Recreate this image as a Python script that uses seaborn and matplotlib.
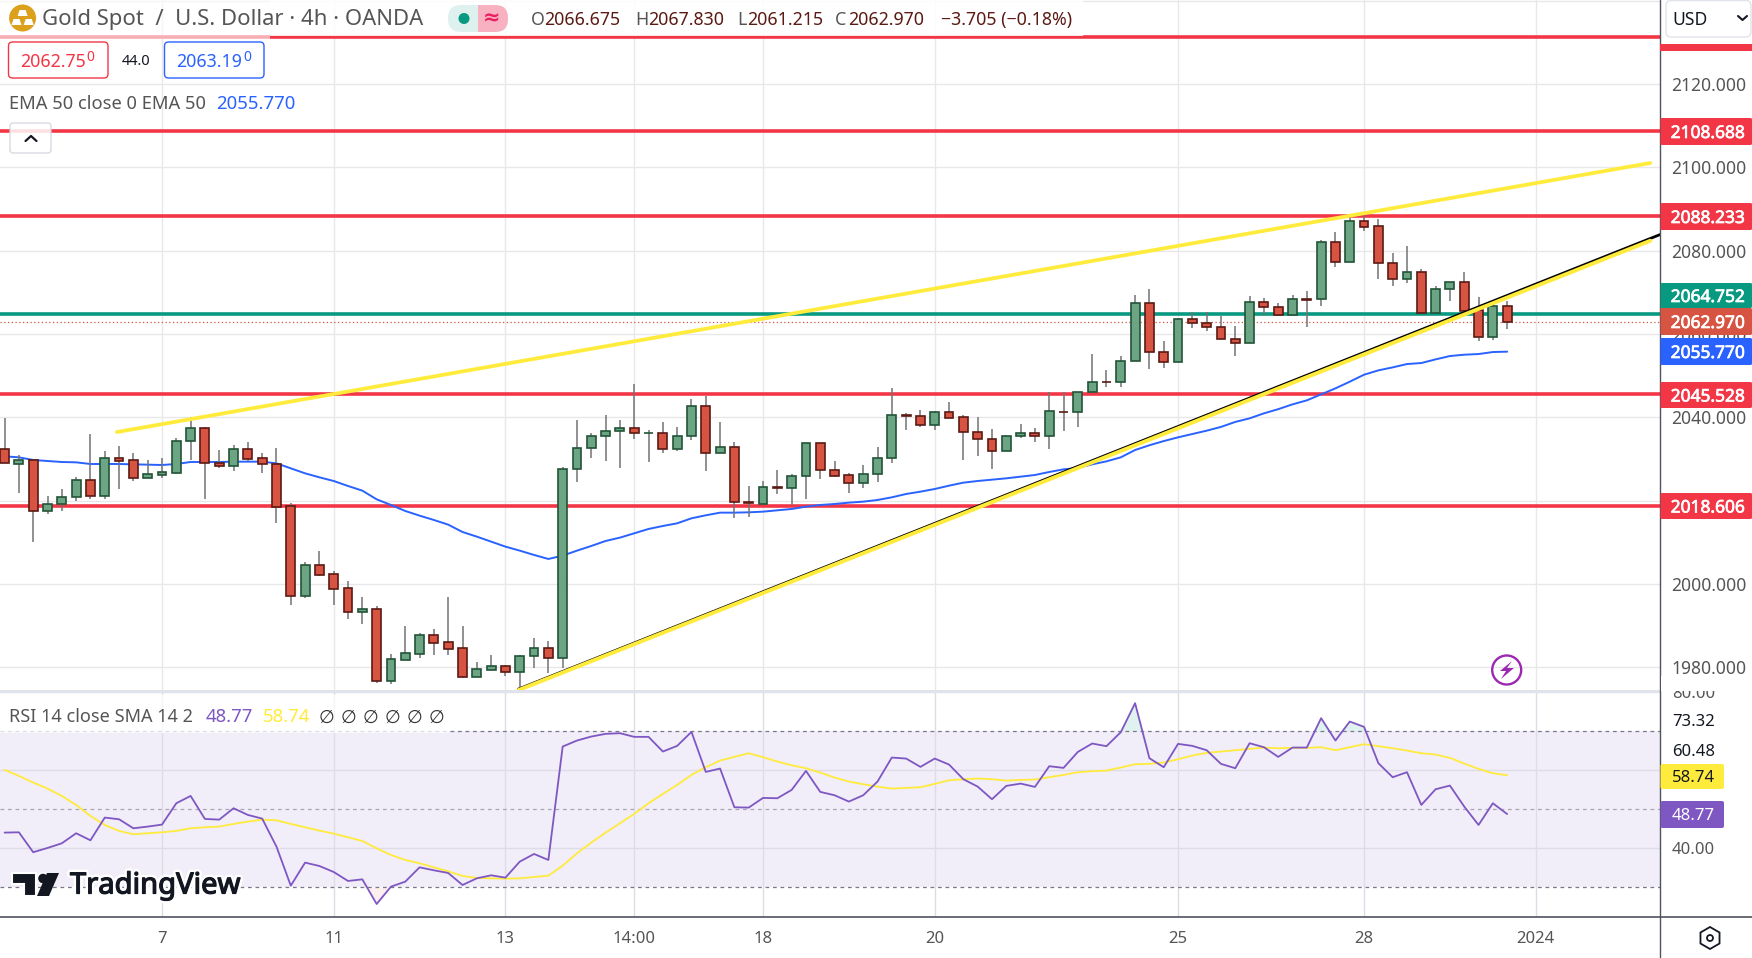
import numpy as np
import pandas as pd
import matplotlib
matplotlib.use("Agg")
import matplotlib.pyplot as plt
import matplotlib.patheffects as pe
from matplotlib.patches import Circle, FancyBboxPatch, Polygon, Rectangle, RegularPolygon
import seaborn as sns

# candles (4h bars)
open_ = [2032.32, 2028.88, 2029.68, 2017.44, 2019.28, 2020.8, 2024.88, 2021.2, 2030.16, 2029.68,
         2025.52, 2026.24, 2026.72, 2034.24, 2037.36, 2028.96, 2028.4, 2032.32, 2030.16, 2028.72,
         2018.64, 1997.2, 2004.48, 2002.32, 1998.96, 1993.36, 1993.92, 1976.8, 1981.84, 1983.28,
         1987.68, 1986.0, 1984.56, 1977.76, 1979.44, 1980.24, 1978.96, 1982.64, 1984.56, 1982.16,
         2027.52, 2032.56, 2035.44, 2036.64, 2037.36, 2036.16, 2036.16, 2032.32, 2035.44, 2042.64,
         2031.36, 2032.8, 2019.6, 2019.28, 2023.2, 2022.96, 2025.84, 2033.76, 2027.28, 2026.08,
         2024.16, 2026.32, 2030.16, 2040.48, 2040.24, 2038.24, 2041.2, 2040.0, 2036.4, 2034.72,
         2031.84, 2035.44, 2036.16, 2035.44, 2041.36, 2041.2, 2046.0, 2048.56, 2048.4, 2053.44,
         2067.36, 2055.6, 2053.2, 2063.52, 2062.72, 2061.76, 2058.72, 2057.76, 2067.6, 2066.56,
         2064.64, 2068.32, 2068.32, 2082.0, 2077.2, 2087.04, 2085.84, 2076.96, 2073.12, 2074.8,
         2065.12, 2070.72, 2072.4, 2065.68, 2059.2, 2066.675]
high = [2039.84, 2030.88, 2029.78, 2021.04, 2022.8, 2025.6, 2036.0, 2032.0, 2033.12, 2031.44,
        2029.76, 2030.24, 2035.04, 2040.0, 2037.6, 2032.16, 2033.28, 2034.08, 2031.44, 2032.64,
        2019.36, 2005.28, 2007.84, 2003.12, 2000.72, 1996.88, 1994.72, 1983.2, 1989.92, 1988.32,
        1989.2, 1996.88, 1989.92, 1981.28, 1982.96, 1980.48, 1982.88, 1987.04, 1986.32, 2028.0,
        2039.36, 2036.24, 2040.56, 2039.36, 2048.0, 2036.88, 2038.88, 2037.68, 2044.4, 2045.12,
        2038.88, 2034.08, 2023.52, 2024.64, 2027.36, 2026.4, 2033.76, 2033.76, 2029.52, 2026.72,
        2028.56, 2032.88, 2046.96, 2041.12, 2041.76, 2041.52, 2043.68, 2040.56, 2040.0, 2037.2,
        2035.84, 2038.4, 2037.36, 2046.0, 2046.0, 2046.0, 2055.12, 2051.36, 2054.72, 2069.28,
        2070.8, 2058.32, 2063.92, 2065.28, 2065.28, 2064.32, 2061.92, 2069.12, 2068.64, 2067.52,
        2069.28, 2070.4, 2082.56, 2084.48, 2087.76, 2088.56, 2087.6, 2079.44, 2081.12, 2075.52,
        2071.52, 2072.4, 2074.88, 2068.8, 2068.0, 2067.83]
low = [2028.96, 2021.92, 2010.16, 2016.88, 2017.6, 2020.0, 2020.4, 2020.4, 2022.8, 2024.72,
       2025.52, 2025.52, 2026.4, 2029.76, 2020.48, 2027.92, 2027.2, 2029.44, 2026.72, 2014.72,
       1995.04, 1996.72, 2001.92, 1995.04, 1991.6, 1990.4, 1976.32, 1976.0, 1981.84, 1982.24,
       1982.96, 1982.96, 1977.52, 1977.76, 1979.44, 1977.92, 1974.5, 1979.84, 1978.64, 1979.92,
       2024.56, 2030.32, 2029.6, 2027.92, 2034.88, 2029.36, 2031.52, 2032.0, 2034.64, 2027.2,
       2031.36, 2015.92, 2016.16, 2019.28, 2021.68, 2019.04, 2020.48, 2025.28, 2025.68, 2021.92,
       2023.12, 2024.56, 2029.12, 2036.96, 2037.68, 2036.96, 2039.92, 2029.84, 2030.72, 2027.68,
       2031.84, 2035.04, 2034.08, 2032.48, 2036.8, 2037.76, 2046.0, 2047.36, 2047.36, 2053.44,
       2051.52, 2051.92, 2053.2, 2061.52, 2060.8, 2058.72, 2054.8, 2057.76, 2064.24, 2064.24,
       2064.64, 2061.76, 2066.72, 2076.16, 2077.2, 2084.8, 2073.12, 2071.6, 2072.32, 2065.12,
       2065.12, 2067.92, 2065.6, 2058.4, 2058.56, 2061.215]
close = [2028.96, 2029.68, 2017.44, 2019.28, 2020.8, 2024.88, 2021.2, 2030.16, 2029.6, 2025.52,
         2026.32, 2026.8, 2034.24, 2037.36, 2028.96, 2028.4, 2032.32, 2030.08, 2028.72, 2018.56,
         1997.2, 2004.48, 2002.24, 1998.88, 1993.36, 1993.92, 1976.8, 1981.92, 1983.36, 1987.68,
         1985.92, 1984.48, 1977.76, 1979.52, 1980.24, 1978.96, 1982.64, 1984.56, 1982.16, 2027.52,
         2032.56, 2035.44, 2036.64, 2037.36, 2036.16, 2036.2, 2032.32, 2035.44, 2042.64, 2031.36,
         2032.8, 2019.6, 2019.5, 2023.2, 2023.15, 2025.84, 2033.76, 2027.28, 2026.0, 2024.16,
         2026.32, 2030.16, 2040.48, 2040.4, 2038.24, 2041.2, 2039.92, 2036.4, 2034.72, 2031.84,
         2035.44, 2036.16, 2035.44, 2041.44, 2041.3, 2046.0, 2048.56, 2048.5, 2053.44, 2067.36,
         2055.6, 2053.2, 2063.52, 2062.72, 2061.76, 2058.72, 2057.76, 2067.6, 2066.56, 2064.64,
         2068.32, 2068.25, 2082.0, 2077.2, 2087.04, 2085.76, 2076.96, 2073.12, 2074.8, 2065.12,
         2070.72, 2072.4, 2065.6, 2059.2, 2066.64, 2062.97]
ema50 = [2030.64, 2030.4, 2029.76, 2029.52, 2029.28, 2029.2, 2028.8, 2028.8, 2028.8, 2028.72,
         2028.64, 2028.56, 2028.8, 2029.28, 2029.28, 2029.28, 2029.36, 2029.36, 2029.36, 2028.96,
         2027.76, 2026.56, 2025.6, 2024.72, 2023.52, 2022.4, 2020.32, 2018.96, 2017.52, 2016.4,
         2015.36, 2014.24, 2012.48, 2011.36, 2010.16, 2008.96, 2008.0, 2006.96, 2006.0, 2006.8,
         2008.0, 2009.12, 2010.32, 2011.12, 2012.16, 2013.2, 2013.92, 2014.56, 2015.76, 2016.48,
         2017.12, 2017.12, 2017.2, 2017.36, 2017.68, 2018.0, 2018.56, 2018.96, 2019.2, 2019.52,
         2019.76, 2020.16, 2020.8, 2021.6, 2022.16, 2022.8, 2023.6, 2024.32, 2024.72, 2025.04,
         2025.36, 2025.76, 2026.16, 2026.88, 2027.52, 2027.84, 2028.72, 2029.44, 2030.4, 2032.16,
         2033.3, 2034.3, 2035.2, 2036.0, 2036.8, 2037.7, 2038.9, 2039.76, 2040.96, 2041.96,
         2043.12, 2044.08, 2045.52, 2046.96, 2048.56, 2050.24, 2051.28, 2052.0, 2052.8, 2053.04,
         2053.92, 2054.72, 2055.04, 2055.2, 2055.68, 2055.77]
rsi = [44.02, 44.1, 39.0, 40.09, 41.28, 43.85, 42.05, 47.87, 47.44, 45.13,
       45.56, 46.07, 51.54, 53.42, 47.52, 47.35, 50.26, 48.55, 47.61, 40.43,
       30.43, 36.33, 35.47, 33.93, 31.63, 32.05, 25.73, 30.17, 31.46, 35.13,
       34.36, 33.68, 30.6, 32.31, 33.08, 32.48, 36.58, 38.55, 37.01, 66.07,
       67.61, 68.63, 69.32, 69.49, 68.55, 68.55, 64.79, 66.24, 69.83, 59.57,
       60.43, 50.51, 50.43, 52.91, 52.82, 54.96, 59.83, 54.45, 53.59, 51.97,
       53.59, 57.1, 63.25, 62.99, 60.86, 62.99, 61.45, 57.69, 55.81, 52.57,
       55.99, 56.58, 55.73, 61.03, 60.6, 64.7, 66.84, 66.16, 69.75, 77.18,
       63.08, 60.77, 66.75, 66.24, 65.13, 61.63, 60.51, 66.92, 65.9, 63.42,
       65.81, 65.81, 73.34, 67.61, 72.48, 71.11, 61.8, 58.21, 59.49, 51.11,
       55.13, 56.07, 50.69, 45.98, 51.54, 48.77]
rsi_sma = [60.09, 58.55, 56.84, 55.3, 53.42, 51.11, 48.29, 45.98, 44.45, 43.59,
           43.85, 44.1, 44.45, 45.13, 45.39, 45.56, 46.24, 46.84, 47.35, 47.18,
           46.24, 45.39, 44.53, 43.76, 42.82, 41.88, 40.0, 38.29, 37.01, 36.16,
           35.13, 34.1, 32.91, 32.39, 32.31, 32.22, 32.31, 32.65, 32.99, 35.56,
           38.72, 41.46, 44.02, 46.41, 48.81, 51.54, 53.93, 56.24, 58.81, 60.77,
           62.48, 63.42, 64.36, 63.34, 62.22, 61.28, 60.51, 59.4, 58.12, 57.1,
           56.41, 55.81, 55.3, 55.47, 55.64, 56.5, 57.44, 57.69, 57.87, 57.69,
           57.35, 57.52, 57.61, 58.21, 58.81, 59.49, 59.75, 59.92, 60.69, 61.54,
           61.63, 61.97, 62.82, 63.76, 64.45, 64.79, 65.13, 65.47, 65.81, 65.64,
           65.73, 65.73, 65.9, 65.13, 65.9, 66.67, 66.16, 65.64, 65.04, 64.36,
           64.02, 63.16, 61.71, 60.34, 59.23, 58.74]

# horizontal levels and drawn trendlines
red_levels = [2131.4, 2108.688, 2088.233, 2045.528, 2018.606]
teal_level = 2064.752
last_close = 2062.97
upper_x = [7.85, 115.0]
upper_y = [2036.47, 2101.06]
lower_x = [35.9, 115.0]
lower_y = [1974.5, 2082.4]
black_x = [35.9, 115.7]
black_y = [1974.75, 2083.9]

price_ticks = [1980, 2000, 2020, 2040, 2060, 2080, 2100, 2120, 2140]
price_labels = ["1980.000", "2000.000", "", "2040.000", "2060.000", "2080.000", "2100.000", "2120.000", ""]
rsi_ticks = [40, 60, 80]
rsi_tick_labels = ["40.00", "", "80.00"]
date_pos = [11, 23, 35, 44, 53, 65, 82, 95, 107]
date_labels = ["7", "11", "13", "14:00", "18", "20", "25", "28", "2024"]

UP, DOWN = "#6BA583", "#D75442"
UP_EDGE, DOWN_EDGE = "#225437", "#5B1A13"
RED, BLUE, YELLOW = "#F23645", "#2962FF", "#FFEB3B"
TEAL, PURPLE = "#089981", "#7E57C2"
GREY = "#555555"
W, H = 1752, 958

sns.set_theme(style="white")
plt.rcParams["font.family"] = ["Noto Sans", "DejaVu Sans"]

df = pd.DataFrame({"bar": np.arange(len(close)), "open": open_, "high": high, "low": low,
                   "close": close, "ema": ema50, "rsi": rsi, "sma": rsi_sma})

fig = plt.figure(figsize=(W / 100, H / 100), dpi=100, facecolor="white")
ax = fig.add_axes([0, 1 - 691 / H, 1660 / W, 691 / H])
ax_rsi = fig.add_axes([0, 1 - 917 / H, 1660 / W, 226 / H], sharex=ax)
ui = fig.add_axes([0, 0, 1, 1], zorder=10)
ui.set_xlim(0, W)
ui.set_ylim(H, 0)
ui.axis("off")
ui.patch.set_alpha(0)

# price pane
for lvl in red_levels:
    ax.axhline(lvl, color=RED, lw=2.6, zorder=1.5)
ax.axhline(teal_level, color=TEAL, lw=2.6, zorder=1.5)
ax.axhline(last_close, color=DOWN, lw=0.9, ls=(0, (1, 2)), zorder=1.6)
sns.lineplot(data=df, x="bar", y="ema", ax=ax, color=BLUE, lw=1.4, zorder=2, errorbar=None)

up = df[df["close"] >= df["open"]]
down = df[df["close"] < df["open"]]
ax.vlines(df["bar"], df["low"], df["high"], color="#737375", lw=1.1, zorder=3)
for part, fill, edge in [(up, UP, UP_EDGE), (down, DOWN, DOWN_EDGE)]:
    ax.bar(part["bar"], (part["close"] - part["open"]).abs(), bottom=part[["open", "close"]].min(axis=1),
           width=0.62, color=fill, edgecolor=edge, lw=1.2, zorder=3.5)

sns.lineplot(x=upper_x, y=upper_y, ax=ax, color=YELLOW, lw=2.7, zorder=4, errorbar=None)
sns.lineplot(x=black_x, y=black_y, ax=ax, color="black", lw=2.0, zorder=4.1, errorbar=None)
sns.lineplot(x=lower_x, y=lower_y, ax=ax, color=YELLOW, lw=2.8, zorder=4.2, errorbar=None)

ax.set_ylim(1974.3, 2140.2)
ax.set_xlim(-0.32, 115.68)
ax.set_xticks(date_pos)
ax.set_yticks(price_ticks)
ax.set_yticklabels(price_labels)
ax.yaxis.tick_right()
ax.tick_params(axis="x", length=0, labelbottom=False)
ax.tick_params(axis="y", length=0, pad=8, labelsize=12.6, labelcolor=GREY)
ax.grid(True, color="#E8E8EA", lw=1)
ax.set_axisbelow(True)
ax.set_xlabel("")
ax.set_ylabel("")
sns.despine(ax=ax, left=True, right=True, top=True, bottom=True)

# RSI pane
ax_rsi.axhspan(30, 70, color="#F1EDF9", lw=0, zorder=0)
ax_rsi.grid(True, color="#DEDCE6", lw=1)
ax_rsi.set_axisbelow(True)
ax_rsi.axhline(70, color="#787B86", lw=0.9, ls=(0, (3, 3)), zorder=1)
ax_rsi.axhline(50, color="#A9A8B2", lw=0.9, ls=(0, (3, 3)), zorder=1)
ax_rsi.axhline(30, color="#787B86", lw=0.9, ls=(0, (3, 3)), zorder=1)
ax_rsi.fill_between(df["bar"], df["rsi"], 70, where=df["rsi"] > 70, interpolate=True,
                    color=TEAL, alpha=0.12, lw=0, zorder=1)
ax_rsi.fill_between(df["bar"], df["rsi"], 30, where=df["rsi"] < 30, interpolate=True,
                    color=RED, alpha=0.08, lw=0, zorder=1)
sns.lineplot(data=df, x="bar", y="sma", ax=ax_rsi, color=YELLOW, lw=1.3, zorder=2, errorbar=None)
sns.lineplot(data=df, x="bar", y="rsi", ax=ax_rsi, color=PURPLE, lw=1.3, zorder=3, errorbar=None)
ax_rsi.set_ylim(22.4, 80.3)
ax_rsi.set_yticks(rsi_ticks)
ax_rsi.set_yticklabels(rsi_tick_labels)
ax_rsi.yaxis.tick_right()
ax_rsi.set_xticks(date_pos)
ax_rsi.set_xticklabels(date_labels)
ax_rsi.tick_params(axis="x", length=0, pad=10, labelsize=12, labelcolor=GREY)
ax_rsi.tick_params(axis="y", length=0, pad=8.5, labelsize=12, labelcolor=GREY)
ax_rsi.set_xlabel("")
ax_rsi.set_ylabel("")
sns.despine(ax=ax_rsi, left=True, right=True, top=True, bottom=True)


def box(x0, y0, x1, y1, fc, ec="none", r=2.0, lw=1.0, alpha=None, z=2):
    ui.add_patch(FancyBboxPatch((x0, y0), x1 - x0, y1 - y0, boxstyle=f"round,pad=0,rounding_size={r}",
                                fc=fc, ec=ec, lw=lw, alpha=alpha, zorder=z))


def label(x, y, s, color=GREY, size=12, ha="left", **kw):
    # matplotlib centres on the line box, nudge down so caps sit on y
    ui.text(x, y + 1.5, s, color=color, fontsize=size, ha=ha, va="center", zorder=5, **kw)


# frame lines
ui.add_patch(Rectangle((0, 690), 1660, 2.5, fc="#E0E3EB", ec="none", zorder=1))
ui.plot([0, W], [917, 917], color="#50535E", lw=1.2, zorder=1)
ui.plot([1660, 1660], [0, H], color="#50535E", lw=1, zorder=1)

# header strip
ui.add_patch(Rectangle((0, 0), 270, 39, fc="white", ec="none", alpha=0.6, zorder=1.2))
ui.add_patch(Rectangle((270, 0), 813, 36, fc="white", ec="none", alpha=0.85, zorder=1.2))
ui.add_patch(Circle((22.6, 18), 13.5, fc="#DCA11C", ec="none", zorder=2))
for cx, cy in [(22.6, 13), (16.5, 22), (28.7, 22)]:
    ui.add_patch(Polygon([(cx - 3, cy - 3), (cx + 3, cy - 3), (cx + 5, cy + 3), (cx - 5, cy + 3)],
                         fc="white", ec="none", zorder=3))
label(42, 18, "Gold Spot  /  U.S. Dollar · 4h · OANDA", size=15.9)
ui.add_patch(FancyBboxPatch((448, 5), 60, 27, boxstyle="round,pad=0,rounding_size=13", fc="#DFF1EE", ec="none", zorder=2))
right_half = FancyBboxPatch((448, 5), 60, 27, boxstyle="round,pad=0,rounding_size=13", fc="#F7B1C0", ec="none", zorder=2.1)
ui.add_patch(right_half)
right_half.set_clip_path(Rectangle((478, 0), 40, 40, transform=ui.transData))
ui.add_patch(Circle((464, 18.5), 5.5, fc=TEAL, ec="none", zorder=3))
label(492, 17, "≈", color="#E91E63", size=15, ha="center", family="DejaVu Sans", fontweight="bold")
for x, head, val in [(531, "O", "2066.675"), (635, "H", "2067.830"), (737, "L", "2061.215"), (835, "C", "2062.970")]:
    label(x, 18, head, size=12.8)
    label(x + 13 if head != "L" else x + 10, 18, val, color=DOWN_EDGE, size=12.8)
label(941, 18, "−3.705 (−0.18%)", color=DOWN_EDGE, size=12.8)

# bid / ask
box(8.5, 42, 108, 78, "white", RED, r=4)
label(20, 60, "2062.75", color=RED, size=12.8)
label(86.5, 56, "0", color=RED, size=10)
label(136, 60, "44.0", color="#131722", size=10.5, ha="center")
box(164.5, 42, 264, 78, "white", BLUE, r=4)
label(176, 60, "2063.19", color=BLUE, size=12.8)
label(243, 56, "0", color=BLUE, size=10)

# EMA legend + collapse button
label(9, 102, "EMA 50 close 0 EMA 50", size=13.2)
label(216, 102, "2055.770", color=BLUE, size=13.4)
box(10, 123, 51, 153, "white", "#D1D4DC", r=3, alpha=0.85)
ui.plot([25.5, 31, 36.5], [141, 136, 141], color="#131722", lw=1.6, zorder=5)

# lightning icon
ui.add_patch(Circle((1506.7, 670), 14.5, fc="none", ec="#9C27B0", lw=1.7, zorder=3))
ui.add_patch(Polygon([(1512, 661), (1500, 671), (1506, 671), (1501, 679), (1514, 668), (1507, 668)],
                     fc="#9C27B0", ec="none", zorder=3))

# right scale labels
box(1666, 0.5, 1751, 37, "white", "#E0E3EB", r=5)
label(1672, 18, "USD", color="#131722", size=12.6)
ui.plot([1738, 1742.5, 1747], [16, 20, 16], color="#131722", lw=1.5, zorder=5)
ui.add_patch(Rectangle((1660, 44), 92, 6.5, fc=RED, ec="none", zorder=2))
thick = [pe.withStroke(linewidth=0.5, foreground="white")]
for y0, y1, txt, bg in [(118, 145, "2108.688", RED), (203, 230, "2088.233", RED),
                        (283, 308, "2064.752", TEAL), (308, 335, "2062.970", DOWN),
                        (338, 365, "2055.770", BLUE), (382, 408, "2045.528", RED),
                        (493, 519, "2018.606", RED)]:
    box(1660.5, y0, 1752, y1, bg, r=1.5)
    label(1708, (y0 + y1) / 2, txt, color="white", size=12.5, ha="center", path_effects=thick)

# RSI labels
ui.add_patch(Rectangle((1661, 676), 91, 14.5, fc="white", ec="none", zorder=2))
label(1672, 720, "73.32", color="#131722", size=12)
label(1672, 751, "60.48", color="#131722", size=12)
box(1660.5, 764, 1724, 789, YELLOW, r=2)
label(1672, 776.5, "58.74", color="#131722", size=12)
box(1660.5, 801, 1724, 828, PURPLE, r=2)
label(1672, 814.5, "48.77", color="white", size=12)
ui.add_patch(Rectangle((0, 695), 449, 38, fc="white", ec="none", alpha=0.75, zorder=1.2))
label(9, 716, "RSI 14 close SMA 14 2", size=13)
label(206, 716, "48.77", color=PURPLE, size=13.4)
label(263, 716, "58.74", color=YELLOW, size=13.4)
for x in [326, 348, 370, 392, 414, 436]:
    label(x, 716, "∅", color="#333333", size=13, ha="center", family="DejaVu Sans")

# watermark
ink = "#131722"
halo = [pe.withStroke(linewidth=4.5, foreground="white"), pe.withStroke(linewidth=0.9, foreground=ink)]
ui.add_patch(Polygon([(12, 873), (36, 873), (36, 896), (24, 896), (24, 884), (12, 884)],
                     fc=ink, ec="white", lw=1.5, zorder=4))
ui.add_patch(Circle((43, 878.5), 5.5, fc=ink, ec="white", lw=1, zorder=4))
ui.add_patch(Polygon([(47, 873), (59, 873), (49, 896), (37, 896)], fc=ink, ec="none", zorder=4))
ui.text(70, 886, "TradingView", color=ink, fontsize=21, ha="left", va="center", zorder=5, path_effects=halo)

# settings hexagon
ui.add_patch(RegularPolygon((1710, 938), 6, radius=11, fc="none", ec="#131722", lw=1.3, zorder=3))
ui.add_patch(Circle((1710, 938), 3, fc="none", ec="#131722", lw=1.3, zorder=3))

fig.savefig("out.png", dpi=100)
